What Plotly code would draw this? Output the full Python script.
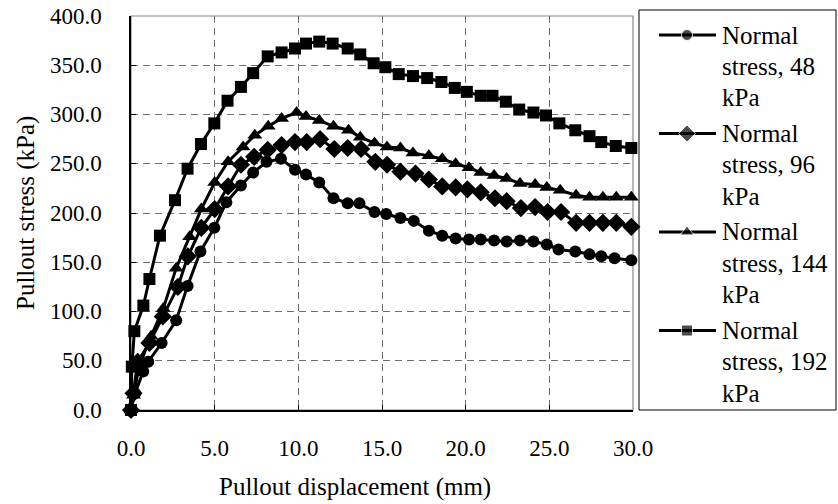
import plotly.graph_objects as go

# Pullout test results: displacement (mm) vs pullout stress (kPa)
disp_48 = [0, 0.24, 0.73, 1.03, 1.83, 2.7, 3.38, 4.15, 4.98, 5.7, 6.57, 7.3, 8.1, 8.96, 9.8,
           10.46, 11.25, 12.1, 12.95, 13.65, 14.55, 15.25, 16.1, 16.9, 17.8, 18.6, 19.4, 20.2,
           20.9, 21.7, 22.45, 23.25, 24.05, 24.85, 25.55, 26.55, 27.4, 28.1, 28.9, 29.9]
stress_48 = [0, 17, 39, 49, 68, 91, 126, 161, 185, 211, 228, 241, 252, 255, 244,
             239, 231, 215, 210, 210, 201, 199, 195, 192, 182, 177, 174, 173,
             173, 172, 171, 172, 171, 168, 163, 161, 158, 156, 154, 152]

disp_96 = [0, 0.15, 0.4, 1.1, 1.9, 2.8, 3.4, 4.2, 5.0, 5.8, 6.57, 7.36, 8.17, 9.0, 9.8,
           10.5, 11.3, 12.15, 12.95, 13.75, 14.6, 15.3, 16.1, 17.0, 17.8, 18.6, 19.4, 20.1,
           20.9, 21.75, 22.45, 23.3, 24.15, 24.9, 25.7, 26.6, 27.4, 28.2, 29.0, 29.9]
stress_96 = [0, 17, 49, 68, 95, 125, 156, 185, 204, 227, 249, 257, 264, 269, 272,
             272, 275, 265, 266, 265, 252, 249, 242, 240, 234, 227, 226, 224,
             221, 215, 212, 205, 206, 201, 201, 190, 190, 190, 190, 186]

disp_144 = [0, 0.15, 0.5, 1.2, 1.93, 2.7, 3.5, 4.2, 5.0, 5.8, 6.7, 7.4, 8.2, 9.0, 9.9,
            10.46, 11.25, 12.1, 13.0, 13.7, 14.55, 15.3, 16.1, 16.85, 17.8, 18.6, 19.4, 20.2,
            20.9, 21.7, 22.45, 23.25, 24.15, 24.85, 25.65, 26.6, 27.4, 28.2, 29.0, 29.9]
stress_144 = [0, 15, 45, 75, 103, 144, 176, 204, 231, 252, 267, 279, 288, 296, 302,
              298, 294, 288, 284, 277, 271, 267, 266, 261, 258, 255, 250, 246,
              241, 238, 235, 230, 229, 226, 223, 218, 216, 216, 216, 216]

disp_192 = [0, 0.05, 0.2, 0.74, 1.1, 1.73, 2.63, 3.38, 4.18, 4.98, 5.77, 6.57, 7.3, 8.17,
            9.0, 9.8, 10.46, 11.25, 12.05, 12.95, 13.7, 14.5, 15.2, 16.0, 16.85, 17.7, 18.55,
            19.35, 20.07, 20.9, 21.6, 22.4, 23.2, 24.05, 24.8, 25.6, 26.55, 27.4, 28.1, 28.97, 29.9]
stress_192 = [0, 44, 80, 106, 133, 177, 213, 245, 270, 291, 314, 328, 342, 359,
              363, 367, 372, 374, 372, 367, 361, 352, 348, 341, 339, 337, 333,
              327, 323, 319, 319, 313, 305, 302, 299, 291, 284, 278, 272, 268, 266]

series_names = ["Normal<br>stress, 48<br>kPa", "Normal<br>stress, 96<br>kPa",
                "Normal<br>stress, 144<br>kPa", "Normal<br>stress, 192<br>kPa"]
series_x = [disp_48, disp_96, disp_144, disp_192]
series_y = [stress_48, stress_96, stress_144, stress_192]
symbols = ["circle", "diamond", "triangle-up", "square"]
marker_sizes = [12, 14, 13, 12]

x_ticks = [0, 5, 10, 15, 20, 25, 30]
y_ticks = [0, 50, 100, 150, 200, 250, 300, 350, 400]
x_title = "Pullout displacement (mm)"
y_title = "Pullout stress (kPa)"

FONT = "Liberation Serif"
FS_TICK = 23
FS_TITLE = 25
FS_LEG = 25

# page geometry in pixels
W, H = 838, 504
ML, MR, MT, MB = 131, 2, 10, 94
PW, PH = W - ML - MR, H - MT - MB
plot_right_px = 633
plot_top_px = 16
x_dom = (plot_right_px - ML) / PW
y_dom = (H - MB - plot_top_px) / PH
leg_left, leg_right = 639, 836


def px_x(p):
    return (p - ML) / PW


def px_y(p):
    return (H - MB - p) / PH


fig = go.Figure()
for xs, ys, sym, ms in zip(series_x, series_y, symbols, marker_sizes):
    fig.add_trace(go.Scatter(
        x=xs, y=ys, mode="lines+markers",
        line=dict(color="black", width=3),
        marker=dict(symbol=sym, size=ms, color="black"),
        showlegend=False, cliponaxis=False,
    ))

# hand-built legend: box, line+marker samples, wrapped labels
leg_dom = [px_x(leg_left), px_x(leg_right)]


def leg_x(p):
    return (p - leg_left) / (leg_right - leg_left)


sample_x = [leg_x(659), leg_x(687), leg_x(716)]
for i, (sym, ms) in enumerate(zip(symbols, marker_sizes)):
    yc = px_y(35 + 98.5 * i)
    fig.add_trace(go.Scatter(
        x=sample_x, y=[yc] * 3, mode="lines+markers",
        line=dict(color="black", width=3),
        marker=dict(symbol=sym, size=[0, ms - 1, 0], color="black"),
        xaxis="x2", yaxis="y2", showlegend=False, hoverinfo="skip", cliponaxis=False,
    ))
    for j, txt in enumerate(series_names[i].split("<br>")):
        fig.add_annotation(
            x=px_x(720), y=px_y(35 + 98.5 * i + 31.3 * j), xref="paper", yref="paper",
            text=txt, showarrow=False, xanchor="left", yanchor="middle",
            font=dict(family=FONT, size=FS_LEG, color="black"),
        )

# y tick labels, right-aligned a fixed distance left of the axis line
for v in y_ticks:
    fig.add_annotation(
        x=px_x(104), y=v, xref="paper", yref="y", text=f"{v:.1f}",
        showarrow=False, xanchor="right", yanchor="middle",
        font=dict(family=FONT, size=FS_TICK, color="black"),
    )
# axis titles
fig.add_annotation(
    x=px_x(26), y=y_dom / 2, xref="paper", yref="paper", text=y_title,
    textangle=-90, showarrow=False, xanchor="center", yanchor="middle",
    font=dict(family=FONT, size=FS_TITLE, color="black"),
)
fig.add_annotation(
    x=px_x(355), y=px_y(487), xref="paper", yref="paper", text=x_title,
    showarrow=False, xanchor="center", yanchor="middle",
    font=dict(family=FONT, size=FS_TITLE, color="black"),
)

fig.add_shape(type="rect", xref="paper", yref="paper",
              x0=leg_dom[0], x1=leg_dom[1], y0=0, y1=1,
              line=dict(color="black", width=1))
# grey frame of the plot area (top and right edges)
fig.add_shape(type="rect", xref="paper", yref="paper",
              x0=0, x1=x_dom, y0=0, y1=y_dom,
              line=dict(color="#888888", width=1.2), layer="below")

# main axes: line, dashed grid, x labels pushed down with invisible outside ticks
label_axis = dict(
    showline=True, linecolor="black", linewidth=1.5, automargin=False,
    showgrid=True, gridcolor="#6e6e6e", griddash="7px,5px", gridwidth=1,
    zeroline=False, tickformat=".1f",
    tickfont=dict(family=FONT, size=FS_TICK, color="black"),
)
# overlay axes: only the short inside tick marks
tick_axis = dict(
    showline=False, showgrid=False, zeroline=False, showticklabels=False, automargin=False,
    ticks="inside", ticklen=5, tickcolor="black", tickwidth=1,
)

fig.update_layout(
    width=W, height=H,
    margin=dict(l=ML, r=MR, t=MT, b=MB, autoexpand=False),
    paper_bgcolor="white", plot_bgcolor="rgba(0,0,0,0)",
    font=dict(family=FONT, size=FS_TICK, color="black"),
    xaxis=dict(label_axis, domain=[0, x_dom], range=[0, 30], tickvals=x_ticks,
               ticks="outside", tickcolor="rgba(0,0,0,0)", ticklen=17),
    yaxis=dict(label_axis, domain=[0, y_dom], range=[0, 400], tickvals=y_ticks,
               ticks="", showticklabels=False),
    xaxis3=dict(tick_axis, overlaying="x", matches="x", tickvals=x_ticks, anchor="y"),
    yaxis3=dict(tick_axis, overlaying="y", matches="y", tickvals=y_ticks, anchor="x"),
    xaxis2=dict(domain=leg_dom, range=[0, 1], visible=False, anchor="y2", automargin=False),
    yaxis2=dict(domain=[0, 1], range=[0, 1], visible=False, anchor="x2", automargin=False),
)
# invisible carrier trace so the tick-only overlay axes are drawn
fig.add_trace(go.Scatter(x=[x_ticks[0]], y=[y_ticks[0]], xaxis="x3", yaxis="y3",
                         mode="markers", marker=dict(opacity=0), showlegend=False,
                         hoverinfo="skip"))

fig.write_html("out.html")
